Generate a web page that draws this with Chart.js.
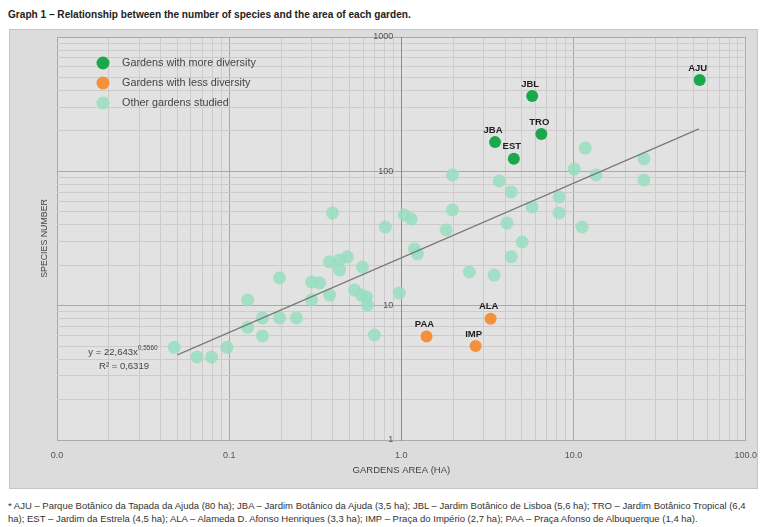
<!DOCTYPE html>
<html lang="en">
<head>
  <meta charset="UTF-8">
  <title>Graph 1 - Species number vs garden area</title>
  <script src="https://cdn.jsdelivr.net/npm/chart.js"></script>
  <style>
    body {
      margin: 0;
      width: 767px;
      height: 527px;
      overflow: hidden;
      position: relative;
      background: #ffffff;
      font-family: "Liberation Sans", Arial, sans-serif;
    }
    .title {
      position: absolute;
      left: 8px;
      top: 9px;
      font-size: 10.1px;
      font-weight: bold;
      color: #222;
      white-space: nowrap;
    }
    .panel {
      position: absolute;
      left: 9px;
      top: 29px;
      width: 749px;
      height: 460px;
      background: #dcdcdc;
      border: 1px solid #c6c6c6;
      box-sizing: border-box;
    }
    .note {
      position: absolute;
      left: 8px;
      top: 499px;
      font-size: 9.5px;
      line-height: 13px;
      color: #333;
      white-space: nowrap;
    }
  </style>
</head>
<body>
  <div class="title">Graph 1 – Relationship between the number of species and the area of each garden.</div>
  <div class="panel">
    <canvas id="gardensChart"></canvas>
  </div>
  <div class="note">* AJU – Parque Botânico da Tapada da Ajuda (80 ha); JBA – Jardim Botânico da Ajuda (3,5 ha); JBL – Jardim Botânico de Lisboa (5,6 ha); TRO – Jardim Botânico Tropical (6,4<br>ha); EST – Jardim da Estrela (4,5 ha); ALA – Alameda D. Afonso Henriques (3,3 ha); IMP – Praça do Império (2,7 ha); PAA – Praça Afonso de Albuquerque (1,4 ha).</div>

  <script>
    // axis ticks
    var xTickValues = [0.01, 0.1, 1, 10, 100];
    var xTickLabels = ['0.0', '0.1', '1.0', '10.0', '100.0'];
    var yTickValues = [1, 10, 100, 1000];
    var yTickLabels = ['1', '10', '100', '1000'];
    var yAxisCrossesAt = 1; // vertical axis sits at 1.0 ha

    // gardens with more diversity
    var moreCodes = ['AJU', 'JBL', 'TRO', 'JBA', 'EST'];
    var moreArea = [54, 5.75, 6.5, 3.5, 4.5];
    var moreSpecies = [479, 364, 190, 165, 124];

    // gardens with less diversity
    var lessCodes = ['ALA', 'IMP', 'PAA'];
    var lessArea = [3.3, 2.7, 1.4];
    var lessSpecies = [8.0, 5.0, 5.9];

    // other gardens studied
    var otherArea = [0.048, 0.065, 0.079, 0.097, 0.128, 0.156, 0.128, 0.156, 0.196, 0.246,
      0.196, 0.301, 0.301, 0.335, 0.398, 0.383, 0.438, 0.486, 0.438, 0.594,
      0.535, 0.586, 0.627, 0.635, 0.383, 0.697, 0.807, 0.972, 1.04, 1.14,
      1.19, 1.98, 3.70, 4.34, 8.24, 1.98, 8.24, 1.82, 4.11, 5.74,
      11.2, 5.03, 4.34, 2.48, 3.46, 11.7, 25.6, 10.1, 13.5, 25.6, 1.24];
    var otherSpecies = [4.9, 4.15, 4.15, 4.9, 6.9, 5.95, 11.0, 8.1, 8.1, 8.1,
      16.1, 11.0, 15.0, 14.8, 49, 21.2, 21.9, 23.1, 18.4, 19.4,
      13.1, 12.0, 11.6, 10.1, 12.0, 6.05, 38.5, 12.4, 47.3, 44.2,
      26.4, 94, 84.8, 70.3, 64.5, 51.6, 49.0, 36.6, 41.3, 54.3,
      38.5, 29.8, 23.1, 17.8, 16.9, 149, 124, 104, 94, 86.3, 24.3];

    // power trend line end points
    var trendArea = [0.05, 53.5];
    var trendSpecies = [4.3, 207];

    var legendLabels = ['Gardens with more diversity', 'Gardens with less diversity', 'Other gardens studied'];

    function toPoints(xs, ys) {
      return xs.map(function (x, i) { return {x: x, y: ys[i]}; });
    }

    function logTicks(scale) {
      var ticks = [];
      var e0 = Math.round(Math.log10(scale.min));
      var e1 = Math.round(Math.log10(scale.max));
      for (var e = e0; e < e1; e++) {
        for (var m = 1; m < 10; m++) {
          ticks.push({value: Number((m * Math.pow(10, e)).toPrecision(6))});
        }
      }
      ticks.push({value: scale.max});
      scale.ticks = ticks;
    }

    function gridColor(decades) {
      return function (ctx) {
        if (!ctx.tick) return '#cfcbcd';
        return decades.indexOf(ctx.tick.value) >= 0 ? '#a9a9a9' : '#cfcbcd';
      };
    }

    var font = '"Liberation Sans", Arial, sans-serif';

    var extras = {
      id: 'extras',
      beforeDraw: function (chart) {
        var ctx = chart.ctx, a = chart.chartArea;
        ctx.save();
        ctx.fillStyle = '#e2e2e2';
        ctx.fillRect(a.left, a.top, a.right - a.left, a.bottom - a.top);
        ctx.restore();
      },
      afterDatasetsDraw: function (chart) {
        var ctx = chart.ctx;
        ctx.save();
        ctx.font = 'bold 9.5px ' + font;
        ctx.fillStyle = '#1e1e1e';
        ctx.textAlign = 'center';
        ctx.textBaseline = 'middle';
        chart.data.datasets.forEach(function (ds, i) {
          if (!ds.codes) return;
          chart.getDatasetMeta(i).data.forEach(function (pt, j) {
            ctx.fillText(ds.codes[j], pt.x - 2, pt.y - 12);
          });
        });
        ctx.restore();
      },
      afterDraw: function (chart) {
        var ctx = chart.ctx, a = chart.chartArea;
        var xs = chart.scales.x, ys = chart.scales.y;
        ctx.save();
        // y tick labels next to the axis at 1.0
        ctx.font = '9px ' + font;
        ctx.fillStyle = '#555';
        ctx.textAlign = 'right';
        ctx.textBaseline = 'middle';
        var axisX = xs.getPixelForValue(yAxisCrossesAt);
        yTickValues.forEach(function (v, k) {
          ctx.fillText(yTickLabels[k], axisX - 8, ys.getPixelForValue(v));
        });
        // legend
        ctx.font = '10.8px ' + font;
        for (var i = 0; i < 3; i++) {
          var ds = chart.data.datasets[i === 2 ? 3 : i];
          var cy = a.top + 26 + i * 20;
          ctx.beginPath();
          ctx.arc(a.left + 46, cy, 6.5, 0, Math.PI * 2);
          ctx.fillStyle = ds.backgroundColor;
          ctx.fill();
          ctx.fillStyle = '#444';
          ctx.textAlign = 'left';
          ctx.fillText(legendLabels[i], a.left + 65, cy);
        }
        // trend equation
        ctx.fillStyle = '#444';
        ctx.font = '9.5px ' + font;
        ctx.textAlign = 'left';
        var base = 'y = 22,643x';
        var sup = '0,5560';
        var w1 = ctx.measureText(base).width;
        ctx.font = '6.5px ' + font;
        var w2 = ctx.measureText(sup).width;
        var ex = a.left + 66 - (w1 + w2) / 2;
        ctx.font = '9.5px ' + font;
        ctx.fillText(base, ex, a.top + 315);
        ctx.font = '6.5px ' + font;
        ctx.fillText(sup, ex + w1, a.top + 311);
        ctx.font = '9.5px ' + font;
        ctx.textAlign = 'center';
        ctx.fillText('R² = 0,6319', a.left + 67, a.top + 329);
        // axis titles
        ctx.fillStyle = '#444';
        ctx.font = '9.5px ' + font;
        ctx.fillText('GARDENS AREA (HA)', (a.left + a.right) / 2, a.bottom + 30);
        ctx.translate(a.left - 12, (a.top + a.bottom) / 2);
        ctx.rotate(-Math.PI / 2);
        ctx.font = '8.8px ' + font;
        ctx.fillText('SPECIES NUMBER', 0, 0);
        ctx.restore();
      }
    };

    var ctx = document.getElementById('gardensChart').getContext('2d');
    var gardensChart = new Chart(ctx, {
      type: 'scatter',
      data: {
        datasets: [{
          label: legendLabels[0],
          codes: moreCodes,
          data: toPoints(moreArea, moreSpecies),
          backgroundColor: '#19a84b',
          borderWidth: 0,
          pointRadius: 6
        }, {
          label: legendLabels[1],
          codes: lessCodes,
          data: toPoints(lessArea, lessSpecies),
          backgroundColor: '#f3913a',
          borderWidth: 0,
          pointRadius: 6
        }, {
          label: 'Power trend',
          data: toPoints(trendArea, trendSpecies),
          showLine: true,
          borderColor: '#7a7a7a',
          borderWidth: 1.2,
          pointRadius: 0
        }, {
          label: legendLabels[2],
          data: toPoints(otherArea, otherSpecies),
          backgroundColor: 'rgba(150, 222, 192, 0.85)',
          borderWidth: 0,
          pointRadius: 6.5
        }]
      },
      options: {
        responsive: true,
        maintainAspectRatio: false,
        animation: false,
        layout: {padding: {left: 47, top: 7, right: 0, bottom: 0}},
        plugins: {
          legend: {display: false},
          tooltip: {enabled: false}
        },
        scales: {
          x: {
            type: 'logarithmic',
            min: 0.01,
            max: 100,
            afterBuildTicks: logTicks,
            afterFit: function (scale) { scale.height = 48; },
            grid: {color: gridColor(xTickValues), drawTicks: true, tickLength: 10, tickColor: 'rgba(0,0,0,0)'},
            border: {color: '#a9a9a9'},
            ticks: {
              autoSkip: false,
              maxRotation: 0,
              padding: 0,
              color: '#555',
              font: {size: 9, family: font},
              callback: function (v) {
                var k = xTickValues.indexOf(v);
                return k >= 0 ? xTickLabels[k] : '';
              }
            }
          },
          y: {
            type: 'logarithmic',
            position: {x: yAxisCrossesAt},
            min: 1,
            max: 1000,
            afterBuildTicks: logTicks,
            grid: {color: gridColor(yTickValues), drawTicks: false},
            border: {color: '#8c8c8c'},
            ticks: {display: false}
          }
        }
      },
      plugins: [extras]
    });
  </script>
</body>
</html>
